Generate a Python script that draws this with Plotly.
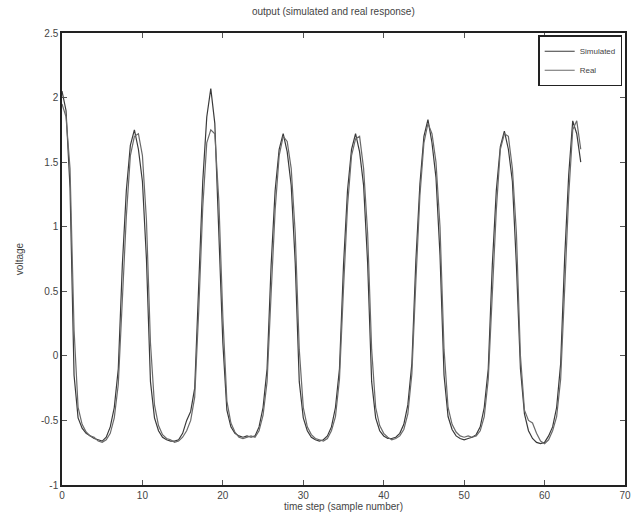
import numpy as np
import plotly.graph_objects as go

# sample grid (half-step samples)
t_start, t_step, n_samples = 0.0, 0.5, 130
t = t_start + t_step * np.arange(n_samples)

simulated = [
    2.05, 1.90, 1.30, -0.15, -0.48, -0.56, -0.60, -0.62, -0.64, -0.65,
    -0.66, -0.63, -0.55, -0.40, -0.10, 0.70, 1.28, 1.63, 1.75, 1.60,
    1.35, 0.75, -0.20, -0.48, -0.58, -0.63, -0.65, -0.66, -0.66, -0.65,
    -0.60, -0.50, -0.43, -0.25, 0.60, 1.35, 1.85, 2.07, 1.80, 1.00,
    0.10, -0.42, -0.55, -0.60, -0.62, -0.63, -0.62, -0.63, -0.62, -0.55,
    -0.40, -0.10, 0.70, 1.28, 1.60, 1.72, 1.58, 1.32, 0.72, -0.20,
    -0.48, -0.58, -0.63, -0.65, -0.66, -0.65, -0.62, -0.55, -0.40, -0.10,
    0.70, 1.28, 1.60, 1.72, 1.58, 1.32, 0.72, -0.20, -0.48, -0.58,
    -0.62, -0.64, -0.64, -0.63, -0.60, -0.53, -0.38, -0.06, 0.74, 1.33,
    1.70, 1.83, 1.65, 1.38, 0.78, -0.15, -0.47, -0.57, -0.62, -0.64,
    -0.65, -0.64, -0.63, -0.61, -0.55, -0.40, -0.10, 0.70, 1.28, 1.62,
    1.74, 1.60, 1.35, 0.70, -0.10, -0.45, -0.58, -0.64, -0.67, -0.68,
    -0.67, -0.62, -0.55, -0.40, -0.06, 0.76, 1.40, 1.82, 1.72, 1.50,
]

real = [
    1.95, 1.85, 1.45, 0.20, -0.40, -0.53, -0.59, -0.62, -0.63, -0.66,
    -0.67, -0.65, -0.60, -0.48, -0.22, 0.42, 1.08, 1.55, 1.70, 1.72,
    1.55, 1.05, 0.10, -0.38, -0.54, -0.61, -0.64, -0.65, -0.67, -0.66,
    -0.63, -0.58, -0.50, -0.32, 0.35, 1.15, 1.65, 1.75, 1.72, 1.20,
    0.30, -0.35, -0.52, -0.59, -0.63, -0.64, -0.63, -0.62, -0.63, -0.58,
    -0.46, -0.20, 0.48, 1.13, 1.55, 1.70, 1.66, 1.45, 0.95, 0.05,
    -0.40, -0.55, -0.61, -0.64, -0.65, -0.66, -0.64, -0.58, -0.47, -0.18,
    0.52, 1.16, 1.55, 1.68, 1.70, 1.45, 0.95, 0.05, -0.40, -0.54,
    -0.60, -0.63, -0.65, -0.64, -0.62, -0.57, -0.45, -0.14, 0.58, 1.24,
    1.65, 1.80, 1.72, 1.50, 1.00, 0.05, -0.40, -0.53, -0.59, -0.62,
    -0.63, -0.62, -0.63, -0.62, -0.58, -0.47, -0.18, 0.52, 1.13, 1.60,
    1.72, 1.70, 1.45, 0.95, 0.00, -0.42, -0.50, -0.52, -0.60, -0.66,
    -0.68, -0.65, -0.58, -0.47, -0.18, 0.52, 1.24, 1.75, 1.82, 1.60,
]

x_ticks = [0, 10, 20, 30, 40, 50, 60, 70]
y_ticks = [-1, -0.5, 0, 0.5, 1, 1.5, 2, 2.5]

font_family = "Liberation Sans, Arial, sans-serif"
text_color = "#444444"

fig = go.Figure()
fig.add_trace(go.Scatter(x=t, y=simulated, mode="lines", name="Simulated",
                         line=dict(color="#3a3a3a", width=1.2)))
fig.add_trace(go.Scatter(x=t, y=real, mode="lines", name="Real",
                         line=dict(color="#6a6a6a", width=1.2)))

axis_common = dict(
    showgrid=False, zeroline=False, showline=True, linecolor="#222222",
    linewidth=1.5, mirror="ticks", ticks="inside", ticklen=5,
    tickcolor="#555555", tickfont=dict(size=10, color=text_color, family=font_family),
)

fig.update_layout(
    width=641, height=520,
    margin=dict(l=62, r=10, t=33, b=35),
    paper_bgcolor="white", plot_bgcolor="white",
    title=dict(text="output (simulated and real response)", x=0.52, xanchor="center",
               y=0.985, yanchor="top",
               font=dict(size=10, color=text_color, family=font_family)),
    xaxis=dict(range=[0, 70], tickvals=x_ticks, ticktext=[str(v) for v in x_ticks],
               title=dict(text="time step (sample number)", standoff=2,
                          font=dict(size=10, color=text_color, family=font_family)),
               **axis_common),
    yaxis=dict(range=[-1, 2.5], tickvals=y_ticks, ticktext=[str(v) for v in y_ticks],
               title=dict(text="voltage", standoff=16,
                          font=dict(size=10, color=text_color, family=font_family)),
               **axis_common),
    legend=dict(x=0.995, y=0.995, xanchor="right", yanchor="top",
                bgcolor="white", bordercolor="#222222", borderwidth=1.5,
                font=dict(size=8, color=text_color, family=font_family),
                itemwidth=30, tracegroupgap=0),
    showlegend=True,
)

fig.write_html("out.html")
